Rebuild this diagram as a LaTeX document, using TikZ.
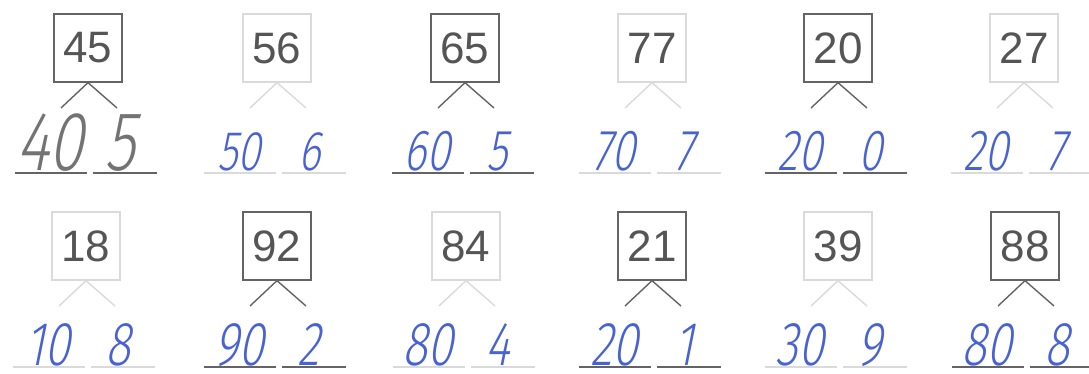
\documentclass[tikz,border=0pt]{standalone}
\usepackage{fontspec}
\setmainfont{Liberation Sans}
\newfontfamily\hand{Fira Sans Light}[FakeSlant=0.2,FakeStretch=0.75]
\definecolor{ink}{RGB}{72,98,210}
\definecolor{pencil}{RGB}{115,115,115}
\definecolor{dark}{RGB}{100,100,100}
\definecolor{pale}{RGB}{218,218,218}
\definecolor{numc}{RGB}{85,85,85}
\tikzset{
  numbox/.style={draw=#1, line width=1.3pt, minimum width=68pt, minimum height=68pt, inner sep=0pt,
    text=numc, font=\fontsize{44}{44}\selectfont},
  lnk/.style={draw=#1, line width=1.4pt},
  uline/.style={draw=#1, line width=1.4pt},
  ans/.style={text=#1, anchor=base, inner sep=0pt}
}
\begin{document}
\begin{tikzpicture}[x=1pt,y=-1pt]
\useasboundingbox (0,0) rectangle (1089,374);
\foreach \i/\x/\y/\n/\a/\b/\fc/\tc/\fs/\d in {
  1/88/0/45/40/5/dark/pencil/84/0,
  2/277/0/56/50/6/pale/ink/56/0,
  3/465/0/65/60/5/dark/ink/58/0,
  4/652/0/77/70/7/pale/ink/58/0,
  5/838/0/20/20/0/dark/ink/58/0,
  6/1024/0/27/20/7/pale/ink/58/0,
  7/86/198/18/10/8/pale/ink/62/4,
  8/277/198/92/90/2/dark/ink/62/4,
  9/466/198/84/80/4/pale/ink/62/4,
  10/652/198/21/20/1/dark/ink/62/4,
  11/838/198/39/30/9/pale/ink/62/4,
  12/1025/198/88/80/8/dark/ink/62/4}{
  \node[numbox=\fc] (b\i) at (\x,{48+\y}) {\n};
  \coordinate (p\i) at ({\x-27},{108+\y});
  \coordinate (q\i) at ({\x+29},{108+\y});
  \draw[lnk=\fc] (p\i) -- (b\i.south) -- (q\i);
  \node[ans=\tc, font=\hand\fontsize{\fs}{\fs}\selectfont] (l\i) at ({\x-38},{171+\y-\d}) {\a};
  \node[ans=\tc, font=\hand\fontsize{\fs}{\fs}\selectfont] (r\i) at ({\x+32},{171+\y-\d}) {\b};
  \coordinate (u\i) at ({\x-73},{173+\y-\d});
  \coordinate (v\i) at ({\x-1},{173+\y-\d});
  \coordinate (w\i) at ({\x+5},{173+\y-\d});
  \coordinate (z\i) at ({\x+69},{173+\y-\d});
  \draw[uline=\fc] (u\i) -- (v\i);
  \draw[uline=\fc] (w\i) -- (z\i);
}
\end{tikzpicture}
\end{document}
